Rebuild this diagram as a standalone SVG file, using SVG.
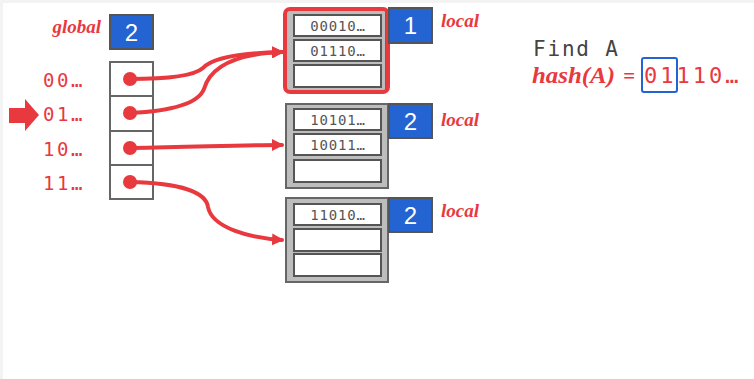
<svg xmlns="http://www.w3.org/2000/svg" width="754" height="379" viewBox="0 0 754 379">
  <defs>
    <marker id="arrow" viewBox="0 0 12 12" refX="10" refY="6" markerWidth="12" markerHeight="12" markerUnits="userSpaceOnUse" orient="auto">
      <path d="M0,0 L12,6 L0,12 Z" fill="#e8393f"/>
    </marker>
    <style>
      .label { font-family: "Liberation Serif", serif; font-style: italic; font-weight: bold; fill: #e8393f; }
      .mono { font-family: "DejaVu Sans Mono", monospace; }
      .bits { font-family: "DejaVu Sans Mono", monospace; font-size: 19px; letter-spacing: 2.6px; fill: #e8393f; }
      .cell { fill: #ffffff; stroke: #666666; stroke-width: 2; }
      .depth { fill: #2364d2; stroke: #555555; stroke-width: 2; }
      .depthnum { font-family: "Liberation Sans", sans-serif; font-size: 24px; fill: #ffffff; text-anchor: middle; }
      .bucket { fill: #bdbdbd; stroke: #666666; stroke-width: 2; }
      .slot { fill: #ffffff; stroke: #555555; stroke-width: 2; }
      .key { font-family: "DejaVu Sans Mono", monospace; font-size: 14px; letter-spacing: 0.8px; fill: #555555; text-anchor: middle; }
      .link { fill: none; stroke: #e8393f; stroke-width: 4; stroke-linecap: round; marker-end: url(#arrow); }
      .dot { fill: #e8393f; }
    </style>
  </defs>

  <rect width="754" height="379" fill="#ffffff"/>
  <rect x="0" y="0" width="754" height="3" fill="#f3f3f3"/>
  <rect x="0" y="0" width="3" height="379" fill="#f3f3f3"/>

  <!-- global depth -->
  <g id="global">
    <text class="label" x="101" y="33" font-size="19" text-anchor="end">global</text>
    <rect class="depth" x="110" y="15" width="43" height="34"/>
    <text class="depthnum" x="131.5" y="41">2</text>
  </g>

  <!-- directory -->
  <g id="directory">
    <rect class="cell" x="110" y="62" width="43" height="34"/>
    <rect class="cell" x="110" y="96" width="43" height="35"/>
    <rect class="cell" x="110" y="131" width="43" height="34"/>
    <rect class="cell" x="110" y="165" width="43" height="34"/>
    <text class="bits" x="43" y="87">00…</text>
    <text class="bits" x="43" y="121">01…</text>
    <text class="bits" x="43" y="156">10…</text>
    <text class="bits" x="43" y="190">11…</text>
  </g>

  <!-- current lookup pointer -->
  <g id="pointer">
    <polygon points="9,108 25,108 25,99 39,115 25,131 25,123 9,123" fill="#e8393f"/>
  </g>

  <!-- bucket 1 (highlighted) -->
  <g id="bucket1">
    <rect class="bucket" x="286" y="10" width="100" height="81"/>
    <rect x="285" y="9" width="103" height="83" rx="5" fill="none" stroke="#e8393f" stroke-width="4"/>
    <rect class="slot" x="294" y="15" width="87" height="21"/>
    <rect class="slot" x="294" y="40" width="87" height="21"/>
    <rect class="slot" x="294" y="65" width="87" height="22"/>
    <text class="key" x="338" y="31">00010…</text>
    <text class="key" x="338" y="56">01110…</text>
    <rect class="depth" x="389" y="8" width="43" height="35"/>
    <text class="depthnum" x="410.5" y="34">1</text>
    <text class="label" x="441" y="27" font-size="19">local</text>
  </g>

  <!-- bucket 2 -->
  <g id="bucket2">
    <rect class="bucket" x="286" y="104" width="102" height="84"/>
    <rect class="slot" x="294" y="109" width="87" height="21"/>
    <rect class="slot" x="294" y="134" width="87" height="21"/>
    <rect class="slot" x="294" y="160" width="87" height="22"/>
    <text class="key" x="338" y="125">10101…</text>
    <text class="key" x="338" y="150">10011…</text>
    <rect class="depth" x="389" y="104" width="43" height="34"/>
    <text class="depthnum" x="410.5" y="130">2</text>
    <text class="label" x="441" y="126" font-size="19">local</text>
  </g>

  <!-- bucket 3 -->
  <g id="bucket3">
    <rect class="bucket" x="286" y="198" width="102" height="84"/>
    <rect class="slot" x="294" y="204" width="87" height="21"/>
    <rect class="slot" x="294" y="229" width="87" height="22"/>
    <rect class="slot" x="294" y="254" width="87" height="22"/>
    <text class="key" x="338" y="220">11010…</text>
    <rect class="depth" x="389" y="198" width="43" height="34"/>
    <text class="depthnum" x="410.5" y="224">2</text>
    <text class="label" x="441" y="217" font-size="19">local</text>
  </g>

  <!-- directory pointers -->
  <g id="connectors">
    <path class="link" d="M130,79 C175,79 195,75 203,68 C212,58 240,53 282,52"/>
    <path class="link" d="M130,113 C172,111 198,104 204,89 C210,68 232,54 282,52"/>
    <path class="link" d="M130,148 C200,147 235,145 282,145"/>
    <path class="link" d="M130,182 C180,183 206,192 208,207 C212,228 250,238 282,240"/>
    <circle class="dot" cx="130" cy="79" r="7"/>
    <circle class="dot" cx="130" cy="113" r="7"/>
    <circle class="dot" cx="130" cy="148" r="7"/>
    <circle class="dot" cx="130" cy="182" r="7"/>
  </g>

  <!-- lookup example -->
  <g id="lookup">
    <text class="mono" x="533" y="56" font-size="21" letter-spacing="1.8" fill="#444444">Find A</text>
    <text class="label" x="532" y="83" font-size="24" textLength="83" lengthAdjust="spacingAndGlyphs">hash(A)</text>
    <text class="label" x="623" y="83" font-size="21">=</text>
    <text class="mono" x="644" y="83" font-size="22" letter-spacing="3" fill="#e8393f">01110…</text>
    <rect x="642" y="58" width="35" height="34" rx="2" fill="none" stroke="#2364d2" stroke-width="2"/>
  </g>
</svg>
